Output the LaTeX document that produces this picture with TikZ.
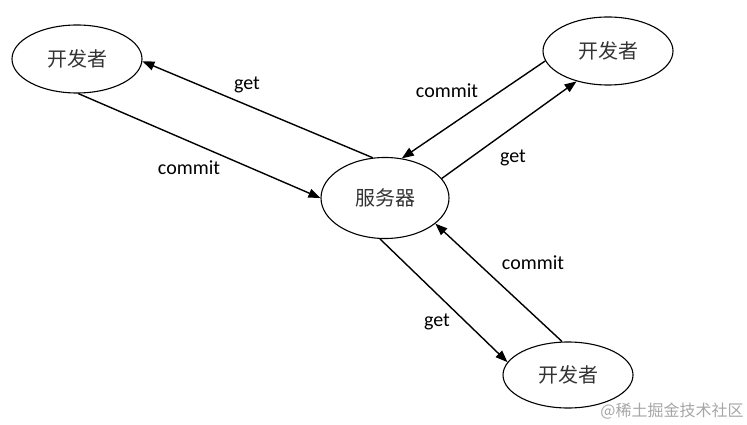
\documentclass[tikz,border=0pt]{standalone}
\usepackage{fontspec}
\setmainfont{Carlito}
\newfontfamily\cjk{Noto Sans CJK SC}
\usetikzlibrary{shapes.geometric}
\usetikzlibrary{arrows.meta}
\tikzset{peer/.style={draw,ellipse,line width=1.1pt,inner sep=0pt,
        minimum width=130pt,minimum height=68pt,
        font=\cjk\fontsize{20}{24}\selectfont,text=black!80},
    flow/.style={draw,line width=1.4pt,-{Triangle[length=12pt,width=9pt]}},
    lbl/.style={font=\fontsize{20}{23}\selectfont,inner sep=0pt}}

\begin{document}
\begin{tikzpicture}[x=1pt,y=-1pt]
\useasboundingbox (0,0) rectangle (747,425);
% nodes
\node[peer] (dev1) at (77,59) {开发者};
\node[peer] (dev2) at (608,51) {开发者};
\node[peer,minimum width=128pt,minimum height=81pt] (server) at (385,198) {服务器};
\node[peer,minimum height=66pt] (dev3) at (568,375) {开发者};
% connectors
\draw[flow] (server.107) -- (dev1.-2);
\draw[flow] (dev1.-88) -- (server.180);
\draw[flow] (dev2.-171) -- (server.67);
\draw[flow] (server.19) -- (dev2.-136);
\draw[flow] (server.-97) -- (dev3.168);
\draw[flow] (dev3.100) -- (server.-27);
% labels
\node[lbl] (g1) at (247,85) {get};
\node[lbl] (c1) at (189,168) {commit};
\node[lbl] (c2) at (447,91) {commit};
\node[lbl] (g2) at (513,158) {get};
\node[lbl] (c3) at (533,263) {commit};
\node[lbl] (g3) at (437,322) {get};
% watermark
\node[font=\cjk\fontsize{16}{18}\selectfont,text=black!35,inner sep=0pt] (mark) at (672,411) {@稀土掘金技术社区};
\end{tikzpicture}
\end{document}
